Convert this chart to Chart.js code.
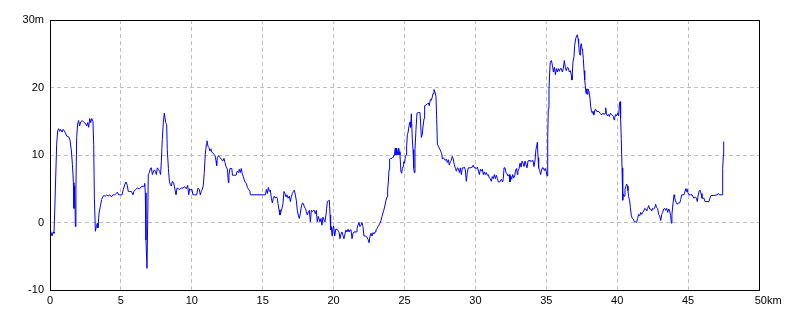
<!DOCTYPE html>
<html>
<head>
<meta charset="utf-8">
<script src="https://cdn.jsdelivr.net/npm/chart.js@4.4.1/dist/chart.umd.min.js"></script>
<style>
  body { margin: 0; background: #fff; }
  #wrap { width: 800px; height: 320px; }
</style>
</head>
<body>
<div id="wrap"><canvas id="perfil"></canvas></div>
<script>
const distancia = [
  0.00, 0.02, 0.05, 0.14, 0.22, 0.28, 0.33, 0.40, 0.47, 0.54, 0.61, 0.68, 0.75, 0.85, 0.92, 0.99,
  1.08, 1.18, 1.32, 1.41, 1.51, 1.58, 1.65, 1.69, 1.74, 1.79, 1.83, 1.88, 1.95, 2.02, 2.09, 2.16,
  2.28, 2.40, 2.49, 2.59, 2.66, 2.73, 2.80, 2.87, 2.94, 3.03, 3.08, 3.13, 3.20, 3.27, 3.34, 3.38,
  3.46, 3.55, 3.64, 3.74, 3.81, 3.90, 4.00, 4.09, 4.21, 4.33, 4.44, 4.56, 4.68, 4.75, 4.84, 4.98,
  5.08, 5.17, 5.27, 5.36, 5.45, 5.52, 5.62, 5.74, 5.85, 5.92, 6.04, 6.16, 6.32, 6.44, 6.63, 6.68,
  6.72, 6.77, 6.84, 6.89, 6.93, 7.01, 7.08, 7.15, 7.22, 7.29, 7.36, 7.43, 7.50, 7.57, 7.66, 7.73,
  7.80, 7.85, 7.92, 7.99, 8.06, 8.11, 8.16, 8.23, 8.27, 8.35, 8.42, 8.49, 8.56, 8.63, 8.72, 8.79,
  8.89, 8.96, 9.05, 9.14, 9.26, 9.38, 9.50, 9.61, 9.71, 9.78, 9.85, 9.92, 10.01, 10.08, 10.20, 10.34,
  10.44, 10.53, 10.60, 10.67, 10.74, 10.81, 10.88, 10.95, 11.03, 11.07, 11.14, 11.21, 11.28, 11.35, 11.42, 11.49,
  11.57, 11.64, 11.71, 11.75, 11.80, 11.89, 11.99, 12.08, 12.18, 12.27, 12.34, 12.41, 12.51, 12.58, 12.62, 12.69,
  12.82, 12.87, 13.00, 13.12, 13.20, 13.30, 13.35, 13.42, 13.49, 13.56, 13.63, 13.70, 13.78, 13.85, 13.92, 14.01,
  14.10, 14.13, 15.19, 15.26, 15.33, 15.40, 15.47, 15.54, 15.61, 15.68, 15.75, 15.82, 15.89, 15.96, 16.03, 16.08,
  16.15, 16.22, 16.29, 16.36, 16.43, 16.50, 16.57, 16.64, 16.71, 16.79, 16.88, 16.95, 17.02, 17.09, 17.16, 17.23,
  17.30, 17.37, 17.44, 17.51, 17.58, 17.65, 17.72, 17.80, 17.87, 17.94, 18.01, 18.08, 18.15, 18.22, 18.29, 18.36,
  18.43, 18.50, 18.57, 18.64, 18.71, 18.78, 18.85, 18.92, 18.97, 19.04, 19.11, 19.18, 19.25, 19.32, 19.39, 19.46,
  19.51, 19.56, 19.63, 19.70, 19.75, 19.79, 19.84, 19.89, 19.93, 20.00, 20.08, 20.15, 20.24, 20.31, 20.38, 20.45,
  20.52, 20.59, 20.66, 20.73, 20.80, 20.87, 20.94, 21.02, 21.09, 21.16, 21.23, 21.30, 21.37, 21.44, 21.51, 21.58,
  21.65, 21.72, 21.79, 21.86, 21.93, 22.00, 22.07, 22.14, 22.24, 22.33, 22.43, 22.50, 22.57, 22.64, 22.71, 22.78,
  22.85, 22.92, 22.99, 23.06, 23.13, 23.20, 23.27, 23.34, 23.41, 23.48, 23.55, 23.63, 23.70, 23.77, 23.81, 23.86,
  23.91, 23.95, 24.03, 24.12, 24.21, 24.26, 24.31, 24.35, 24.40, 24.45, 24.50, 24.54, 24.59, 24.64, 24.68, 24.75,
  24.80, 24.85, 24.90, 24.94, 25.01, 25.06, 25.11, 25.15, 25.20, 25.25, 25.32, 25.39, 25.44, 25.48, 25.55, 25.60,
  25.65, 25.69, 25.74, 25.81, 25.88, 26.00, 26.09, 26.14, 26.19, 26.26, 26.31, 26.38, 26.42, 26.52, 26.61, 26.68,
  26.75, 26.82, 26.89, 26.96, 27.01, 27.08, 27.15, 27.22, 27.27, 27.32, 27.39, 27.48, 27.55, 27.62, 27.67, 27.74,
  27.81, 27.88, 27.95, 28.02, 28.09, 28.16, 28.23, 28.30, 28.37, 28.44, 28.51, 28.59, 28.66, 28.73, 28.80, 28.87,
  28.94, 29.01, 29.08, 29.15, 29.22, 29.29, 29.36, 29.43, 29.50, 29.64, 29.78, 29.85, 29.92, 29.99, 30.07, 30.14,
  30.21, 30.28, 30.35, 30.42, 30.49, 30.56, 30.63, 30.70, 30.77, 30.84, 30.91, 30.98, 31.05, 31.12, 31.19, 31.26,
  31.34, 31.41, 31.48, 31.55, 31.62, 31.71, 31.83, 31.92, 31.97, 32.02, 32.09, 32.16, 32.23, 32.30, 32.37, 32.44,
  32.49, 32.56, 32.63, 32.70, 32.77, 32.84, 32.91, 32.96, 33.00, 33.08, 33.15, 33.22, 33.29, 33.36, 33.43, 33.50,
  33.57, 33.64, 33.71, 33.78, 33.85, 33.92, 33.99, 34.06, 34.13, 34.20, 34.27, 34.32, 34.37, 34.42, 34.46, 34.53,
  34.60, 34.65, 34.72, 34.79, 34.86, 34.93, 35.00, 35.05, 35.10, 35.14, 35.19, 35.24, 35.28, 35.36, 35.43, 35.50,
  35.57, 35.64, 35.71, 35.78, 35.85, 35.92, 35.99, 36.06, 36.13, 36.20, 36.27, 36.34, 36.41, 36.48, 36.55, 36.62,
  36.70, 36.77, 36.81, 36.88, 36.95, 37.00, 37.07, 37.14, 37.19, 37.24, 37.28, 37.33, 37.38, 37.42, 37.47, 37.52,
  37.56, 37.61, 37.66, 37.71, 37.75, 37.80, 37.85, 37.89, 37.94, 38.01, 38.08, 38.13, 38.18, 38.25, 38.29, 38.36,
  38.43, 38.51, 38.58, 38.65, 38.72, 38.79, 38.86, 38.93, 39.00, 39.07, 39.14, 39.19, 39.23, 39.30, 39.38, 39.45,
  39.52, 39.59, 39.66, 39.73, 39.78, 39.82, 39.89, 39.96, 40.03, 40.10, 40.15, 40.20, 40.24, 40.29, 40.34, 40.39,
  40.43, 40.48, 40.55, 40.62, 40.67, 40.72, 40.76, 40.81, 40.88, 40.93, 41.00, 41.07, 41.14, 41.21, 41.28, 41.37,
  41.44, 41.51, 41.59, 41.66, 41.73, 41.80, 41.87, 41.94, 42.01, 42.08, 42.15, 42.22, 42.29, 42.36, 42.43, 42.50,
  42.57, 42.64, 42.71, 42.78, 42.85, 42.92, 42.99, 43.07, 43.14, 43.21, 43.28, 43.35, 43.42, 43.49, 43.56, 43.63,
  43.70, 43.77, 43.82, 43.86, 43.94, 44.01, 44.05, 44.10, 44.17, 44.24, 44.31, 44.41, 44.48, 44.55, 44.64, 44.71,
  44.78, 44.83, 44.88, 44.92, 44.99, 45.06, 45.18, 45.28, 45.35, 45.42, 45.51, 45.58, 45.65, 45.70, 45.77, 45.84,
  45.91, 45.98, 46.12, 46.19, 46.40, 46.47, 46.54, 46.62, 46.83, 47.06, 47.13, 47.20, 47.41, 47.44, 47.49, 47.51
]

const altura = [
  5.3, 0.6, -1.2, -2.0, -1.4, -1.6, 1.4, 6.6, 11.6, 13.6, 13.9, 13.5, 13.8, 13.4, 13.8, 13.6,
  13.3, 12.8, 12.7, 12.2, 10.6, 8.6, 5.9, 2.1, 5.4, -0.6, 5.4, 12.6, 14.6, 15.1, 14.3, 14.9,
  15.1, 14.8, 14.7, 14.3, 14.8, 14.1, 15.4, 14.8, 15.4, 15.0, 11.6, 3.6, -1.3, -0.6, -0.1, -0.8,
  1.4, 2.4, 3.4, 3.9, 4.0, 3.9, 4.1, 3.9, 4.1, 3.8, 4.1, 4.1, 4.3, 4.5, 4.1, 4.1,
  4.1, 4.9, 5.6, 6.0, 5.5, 4.6, 4.6, 4.6, 4.1, 4.6, 4.9, 5.1, 5.0, 5.3, 5.4, 5.8,
  4.4, -2.6, -6.8, 0.4, 7.1, 7.4, 8.0, 8.1, 7.1, 7.5, 7.8, 7.6, 7.1, 8.1, 7.8, 7.6,
  7.1, 9.0, 12.3, 14.8, 16.2, 16.2, 14.8, 14.5, 10.8, 8.0, 6.1, 5.6, 5.4, 6.1, 5.9, 5.1,
  4.1, 5.1, 5.0, 4.9, 5.1, 5.1, 5.3, 5.0, 5.5, 4.1, 5.0, 4.8, 4.9, 4.1, 4.1, 4.1,
  5.1, 4.9, 4.1, 4.6, 4.9, 5.5, 7.4, 10.1, 11.6, 12.1, 11.3, 11.1, 10.6, 10.9, 10.4, 10.3,
  10.1, 9.9, 9.1, 8.4, 9.6, 9.9, 9.6, 9.4, 9.1, 9.5, 8.9, 8.3, 7.9, 5.9, 7.0, 8.0,
  8.0, 7.0, 7.0, 7.0, 7.6, 7.4, 7.9, 7.4, 8.0, 7.2, 6.8, 6.3, 5.9, 5.8, 5.2, 4.9,
  4.6, 4.1, 4.1, 4.9, 4.3, 5.2, 4.6, 4.8, 3.6, 2.9, 3.6, 3.9, 3.6, 3.8, 3.6, 2.8,
  1.9, 1.1, 1.6, 2.1, 2.8, 4.6, 4.3, 3.8, 4.1, 3.6, 3.9, 3.1, 3.8, 4.3, 4.6, 4.8,
  4.1, 3.3, 1.8, 1.1, 0.6, 1.3, 2.3, 2.9, 2.8, 2.3, 2.1, 1.6, 1.1, 1.6, 1.8, 0.1,
  1.8, 1.6, 1.8, 1.8, 1.3, 1.8, 0.1, 0.9, 0.9, 0.1, 0.6, -0.4, 0.8, 0.4, 0.1, 1.1,
  2.1, 3.1, 3.2, 3.3, 1.1, -1.1, -0.6, -2.0, -1.1, -0.5, -2.0, -1.0, -1.0, -1.0, -1.4, -2.4,
  -1.7, -1.4, -1.9, -2.4, -1.7, -1.1, -1.4, -1.0, -1.4, -1.1, -1.1, -2.4, -1.6, -1.4, -1.4, -1.4,
  -0.9, -0.4, 0.0, -0.6, -0.4, 0.0, -0.6, -2.0, -2.0, -2.1, -2.5, -3.0, -2.0, -1.6, -2.0, -1.5,
  -1.7, -1.4, -1.1, -0.9, -0.6, -0.4, -0.1, 0.3, 0.9, 1.4, 1.9, 2.6, 3.3, 3.8, 4.8, 6.0,
  7.8, 9.4, 9.5, 9.5, 9.7, 10.0, 10.5, 11.0, 10.0, 11.0, 10.5, 10.0, 11.0, 10.5, 10.0, 7.5,
  7.3, 8.0, 8.3, 9.0, 8.8, 9.8, 10.0, 11.2, 13.0, 13.3, 14.3, 14.9, 14.1, 16.1, 12.4, 10.8,
  8.1, 7.4, 10.8, 13.8, 16.2, 16.3, 16.3, 14.6, 12.6, 13.1, 14.3, 15.4, 17.3, 17.4, 17.6, 17.7,
  17.3, 18.2, 18.1, 18.6, 19.1, 19.7, 19.3, 18.7, 15.3, 11.6, 11.3, 10.9, 10.6, 10.2, 9.4, 9.6,
  9.4, 9.2, 9.4, 8.9, 9.3, 8.5, 9.0, 9.2, 9.8, 9.4, 8.6, 8.0, 7.6, 8.1, 8.0, 7.4,
  8.1, 7.1, 8.1, 8.1, 8.2, 7.8, 6.1, 7.4, 8.1, 8.1, 8.2, 8.5, 8.1, 8.1, 8.0, 8.2,
  7.6, 7.1, 7.9, 7.6, 7.9, 7.1, 7.5, 7.1, 7.4, 7.0, 7.1, 6.6, 6.5, 6.1, 6.8, 6.5,
  7.1, 6.5, 7.0, 6.5, 6.0, 6.0, 6.4, 6.0, 6.5, 8.1, 8.1, 7.4, 7.2, 6.9, 7.1, 6.0,
  6.9, 6.4, 7.1, 6.6, 6.9, 7.8, 8.0, 7.1, 7.6, 8.0, 8.8, 8.2, 9.1, 8.8, 8.3, 9.1,
  8.6, 8.1, 9.1, 9.2, 9.1, 9.1, 9.1, 9.2, 8.3, 9.1, 10.8, 11.3, 11.9, 9.6, 8.1, 7.7,
  7.1, 7.6, 8.1, 8.1, 7.7, 8.0, 7.5, 6.9, 12.5, 16.9, 19.9, 22.3, 23.8, 24.0, 23.3, 22.3,
  23.0, 21.9, 22.8, 22.3, 22.8, 22.4, 22.8, 22.8, 22.3, 22.8, 24.0, 23.0, 22.5, 23.0, 22.9, 22.3,
  22.5, 21.8, 21.1, 23.8, 24.5, 26.2, 27.2, 27.7, 27.8, 27.2, 26.5, 25.2, 24.8, 26.2, 26.5, 25.7,
  25.5, 24.3, 22.5, 21.1, 20.3, 19.1, 19.8, 19.0, 19.8, 19.4, 18.4, 17.2, 16.5, 16.2, 16.5, 15.9,
  16.7, 16.7, 16.4, 16.5, 16.4, 16.2, 16.0, 16.0, 16.2, 16.0, 16.2, 17.0, 16.2, 15.8, 16.0, 15.7,
  16.2, 16.0, 15.9, 15.7, 15.2, 15.5, 16.0, 15.8, 16.2, 15.8, 17.4, 17.9, 15.5, 12.3, 8.1, 3.3,
  4.2, 3.9, 4.9, 5.4, 5.7, 5.4, 4.7, 3.8, 3.2, 2.2, 1.0, 0.6, 0.5, 0.1, 0.1, 0.0,
  0.6, 1.2, 1.0, 1.5, 1.2, 1.5, 1.7, 2.1, 2.0, 1.7, 2.1, 2.5, 2.0, 2.0, 1.7, 2.1,
  2.0, 2.1, 2.7, 2.2, 2.1, 1.2, 1.0, 0.3, 1.2, 1.5, 2.0, 2.1, 1.8, 2.1, 1.5, 2.0,
  1.7, 1.0, -0.1, 1.2, 2.9, 4.1, 3.7, 3.3, 2.9, 2.7, 2.9, 2.9, 3.4, 4.1, 4.1, 4.1,
  4.6, 5.0, 4.6, 5.0, 4.4, 4.1, 4.1, 4.1, 3.8, 3.6, 3.8, 3.6, 3.1, 3.9, 4.6, 4.8,
  4.3, 3.6, 3.6, 3.1, 3.1, 3.1, 3.6, 4.0, 4.0, 4.1, 4.3, 4.1, 4.1, 8.0, 10.0, 12.0
]

// ejes
const ejeX = { min: 0, max: 50, paso: 5, unidad: 'km' }
const ejeY = { min: -10, max: 30, paso: 10, unidad: 'm' }

const puntos = distancia.map((d, i) => ({ x: d, y: altura[i] }))

// marco negro alrededor del area del grafico
const marco = {
    id: 'marco',
    afterDraw(chart) {
        const a = chart.chartArea
        const ctx = chart.ctx
        ctx.save()
        ctx.strokeStyle = '#000'
        ctx.lineWidth = 1
        ctx.strokeRect(Math.round(a.left) + 0.5, Math.round(a.top) + 0.5,
            Math.round(a.right - a.left), Math.round(a.bottom - a.top))
        ctx.restore()
    }
}

const fuente = { family: "'Liberation Sans', sans-serif", size: 11 }

new Chart(document.getElementById('perfil'), {
    type: 'line',
    data: {
        datasets: [{
            data: puntos,
            borderColor: '#0000ff',
            borderWidth: 1,
            pointRadius: 0,
            tension: 0,
            fill: false
        }]
    },
    options: {
        responsive: true,
        maintainAspectRatio: false,
        animation: false,
        layout: { padding: { top: 20, right: 41, left: 0, bottom: 0 } },
        plugins: { legend: { display: false }, tooltip: { enabled: false } },
        scales: {
            x: {
                type: 'linear',
                min: ejeX.min,
                max: ejeX.max,
                afterFit(s) { s.height = 30 },
                ticks: {
                    stepSize: ejeX.paso,
                    color: '#000',
                    font: fuente,
                    padding: 4,
                    maxRotation: 0,
                    callback: v => v === ejeX.max ? '      ' + v + ejeX.unidad : v
                },
                grid: {
                    color: ctx => (ctx.tick && (ctx.tick.value === ejeX.min || ctx.tick.value === ejeX.max)) ? 'rgba(0,0,0,0)' : '#c0c0c0',
                    drawTicks: false
                },
                border: { display: false, dash: [4, 3] }
            },
            y: {
                min: ejeY.min,
                max: ejeY.max,
                afterFit(s) { s.width = 50 },
                ticks: {
                    stepSize: ejeY.paso,
                    color: '#000',
                    font: fuente,
                    padding: 6,
                    callback: v => v === ejeY.max ? v + ejeY.unidad : v
                },
                grid: {
                    color: ctx => (ctx.tick && (ctx.tick.value === ejeY.min || ctx.tick.value === ejeY.max)) ? 'rgba(0,0,0,0)' : '#c0c0c0',
                    drawTicks: false
                },
                border: { display: false, dash: [4, 3] }
            }
        }
    },
    plugins: [marco]
})
</script>
</body>
</html>
